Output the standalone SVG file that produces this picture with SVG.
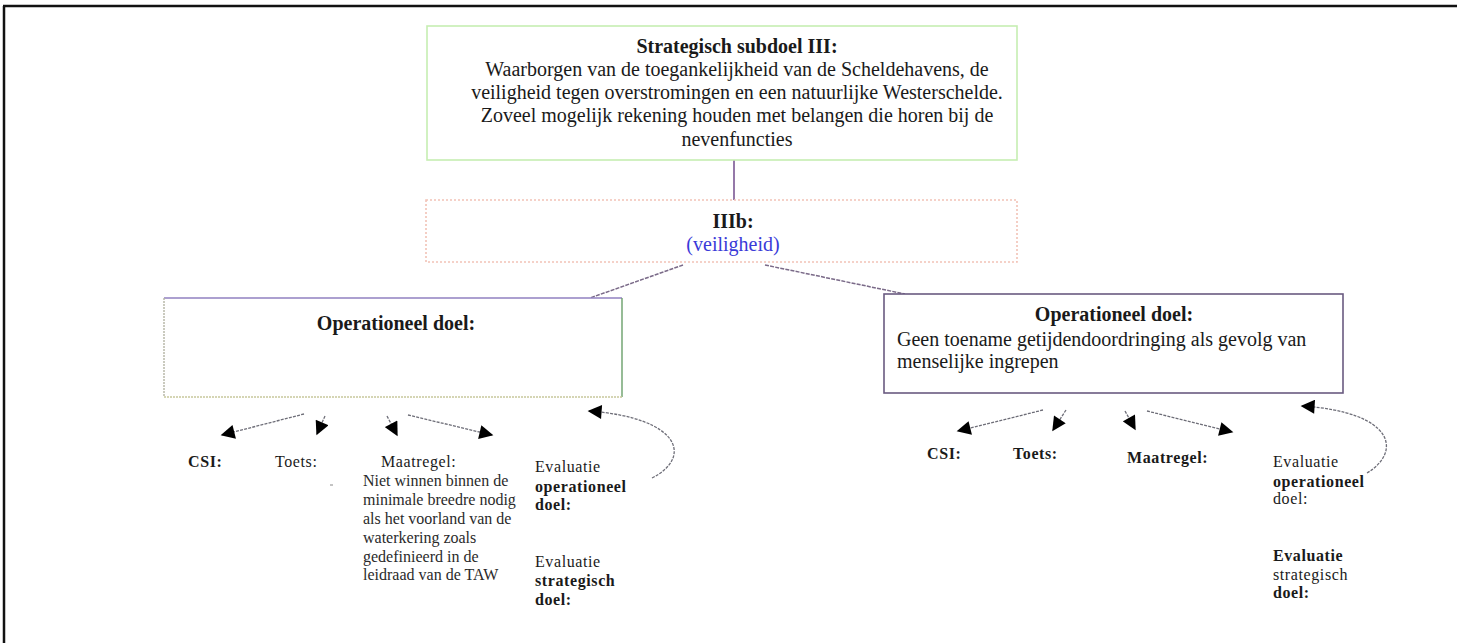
<svg xmlns="http://www.w3.org/2000/svg" width="1463" height="643" viewBox="0 0 1463 643">
  <defs>
    <marker id="head" viewBox="0 0 10 10" refX="9" refY="5" markerWidth="15" markerHeight="14" markerUnits="userSpaceOnUse" orient="auto">
      <path d="M0,0 L10,5 L0,10 z" fill="#000"/>
    </marker>
    <style>
      text { font-family: "Liberation Serif", "Times New Roman", serif; fill: #1a1a1a; }
      .big { font-size: 20px; }
      .hd { font-size: 20px; font-weight: bold; }
      .lbl { font-size: 16px; letter-spacing: 0.6px; }
      .lblb { font-size: 16px; font-weight: bold; letter-spacing: 0.6px; }
      .body { font-size: 16px; fill: #2a2a2a; }
      .arrow { fill: none; stroke: #6e6e78; stroke-width: 1.3; stroke-dasharray: 3 1.2; marker-end: url(#head); }
      .link { fill: none; stroke: #7a6a88; stroke-width: 1.5; stroke-dasharray: 4 1.2; }
    </style>
  </defs>
  <rect width="1463" height="643" fill="#fff"/>

  <!-- outer frame -->
  <g id="frame" stroke="#111" stroke-width="2.5" fill="none">
    <line x1="3" y1="6" x2="1457" y2="6"/>
    <line x1="4" y1="6" x2="4" y2="643"/>
  </g>

  <!-- connectors -->
  <g id="connectors">
    <line x1="734" y1="160" x2="734" y2="200" stroke="#8a6aa0" stroke-width="1.8"/>
    <line class="link" x1="683" y1="265" x2="590" y2="298"/>
    <line class="link" x1="765" y1="265" x2="905" y2="294"/>
    <!-- left fan -->
    <line class="arrow" x1="304" y1="414" x2="222" y2="435"/>
    <line class="arrow" x1="325" y1="416" x2="317" y2="434"/>
    <line class="arrow" x1="387" y1="416" x2="397" y2="435"/>
    <line class="arrow" x1="408" y1="415" x2="492" y2="435"/>
    <path class="arrow" d="M652,478 C692,458 682,418 589,411"/>
    <!-- right fan -->
    <line class="arrow" x1="1043" y1="410" x2="958" y2="431"/>
    <line class="arrow" x1="1066" y1="410" x2="1053" y2="430"/>
    <line class="arrow" x1="1125" y1="411" x2="1135" y2="429"/>
    <line class="arrow" x1="1147" y1="411" x2="1232" y2="432"/>
    <path class="arrow" d="M1367,473 C1402,452 1395,412 1302,406"/>
  </g>

  <!-- strategic sub-goal -->
  <g id="subdoel">
    <rect x="427" y="26" width="590" height="134" fill="#fff" stroke="#c6eeb2" stroke-width="1.6"/>
    <g text-anchor="middle">
      <text class="hd" x="737" y="53">Strategisch subdoel III:</text>
      <text class="big" x="737" y="76">Waarborgen van de toegankelijkheid van de Scheldehavens, de</text>
      <text class="big" x="737" y="99">veiligheid tegen overstromingen en een natuurlijke Westerschelde.</text>
      <text class="big" x="737" y="122">Zoveel mogelijk rekening houden met belangen die horen bij de</text>
      <text class="big" x="737" y="146">nevenfuncties</text>
    </g>
  </g>

  <!-- IIIb -->
  <g id="iiib">
    <rect x="426" y="200" width="591" height="62" fill="#fff" stroke="#f2c2b6" stroke-width="1.6" stroke-dasharray="2 2"/>
    <text class="hd" x="733" y="228" text-anchor="middle">IIIb:</text>
    <text class="big" x="733" y="251" text-anchor="middle" style="fill:#3a3ad8">(veiligheid)</text>
  </g>

  <!-- left operational goal -->
  <g id="op-links">
    <rect x="164" y="298" width="458" height="99" fill="#fff" stroke="none"/>
    <line x1="164" y1="298" x2="622" y2="298" stroke="#9080c0" stroke-width="1.6"/>
    <line x1="622" y1="298" x2="622" y2="397" stroke="#6aa06a" stroke-width="1.4"/>
    <line x1="164" y1="397" x2="622" y2="397" stroke="#c8c89c" stroke-width="1.6" stroke-dasharray="2 1"/>
    <line x1="164" y1="298" x2="164" y2="397" stroke="#b4b4a4" stroke-width="1.4" stroke-dasharray="2 1"/>
    <text class="hd" x="396" y="330" text-anchor="middle">Operationeel doel:</text>
  </g>

  <!-- right operational goal -->
  <g id="op-rechts">
    <rect x="884" y="294" width="459" height="99" fill="#fff" stroke="#6a5a80" stroke-width="1.6"/>
    <text class="hd" x="1114" y="321" text-anchor="middle">Operationeel doel:</text>
    <text class="big" x="897" y="346">Geen toename getijdendoordringing als gevolg van</text>
    <text class="big" x="897" y="368">menselijke ingrepen</text>
  </g>

  <!-- left labels -->
  <g id="csi-links"><text class="lblb" x="188" y="467">CSI:</text></g>
  <g id="toets-links"><text class="lbl" x="275" y="467">Toets:</text></g>
  <g id="maatregel-links">
    <text class="lbl" x="381" y="467">Maatregel:</text>
    <line x1="330" y1="485" x2="333" y2="485" stroke="#888" stroke-width="1"/>
    <text class="body" x="363" y="486">Niet winnen binnen de</text>
    <text class="body" x="363" y="505">minimale breedre nodig</text>
    <text class="body" x="363" y="524">als het voorland van de</text>
    <text class="body" x="363" y="543">waterkering zoals</text>
    <text class="body" x="363" y="562">gedefinieerd in de</text>
    <text class="body" x="363" y="580">leidraad van de TAW</text>
  </g>
  <g id="eval-op-links">
    <text class="lbl" x="535" y="472">Evaluatie</text>
    <text class="lblb" x="535" y="492">operationeel</text>
    <text class="lblb" x="535" y="510">doel:</text>
  </g>
  <g id="eval-str-links">
    <text class="lbl" x="535" y="567">Evaluatie</text>
    <text class="lblb" x="535" y="586">strategisch</text>
    <text class="lblb" x="535" y="605">doel:</text>
  </g>

  <!-- right labels -->
  <g id="csi-rechts"><text class="lblb" x="927" y="459">CSI:</text></g>
  <g id="toets-rechts"><text class="lblb" x="1013" y="459">Toets:</text></g>
  <g id="maatregel-rechts"><text class="lblb" x="1127" y="463">Maatregel:</text></g>
  <g id="eval-op-rechts">
    <text class="lbl" x="1273" y="467">Evaluatie</text>
    <text class="lblb" x="1273" y="487">operationeel</text>
    <text class="lbl" x="1273" y="504">doel:</text>
  </g>
  <g id="eval-str-rechts">
    <text class="lblb" x="1273" y="561">Evaluatie</text>
    <text class="lbl" x="1273" y="580">strategisch</text>
    <text class="lblb" x="1273" y="598">doel:</text>
  </g>
</svg>
